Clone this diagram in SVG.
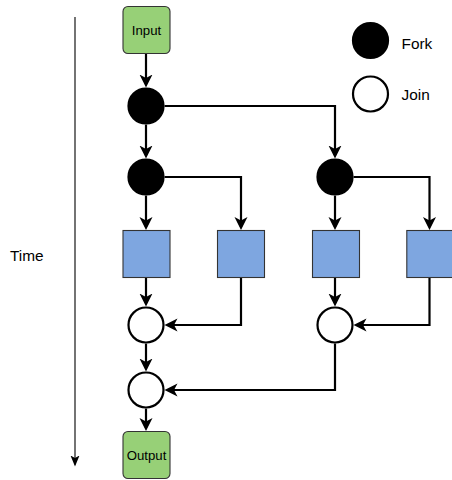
<svg xmlns="http://www.w3.org/2000/svg" width="452" height="480" viewBox="0 0 452 480">
<style>
.box{stroke:#333;stroke-width:1.1}
.io{fill:#97D077}
.task{fill:#7EA6E0}
.fork{fill:#000;stroke:#000;stroke-width:2.2}
.join{fill:#fff;stroke:#000;stroke-width:2.2}
.edge{fill:none;stroke:#000;stroke-width:2.2;marker-end:url(#arr)}
.axis{fill:none;stroke:#000;stroke-width:1.1;marker-end:url(#arrs)}
.lbl{font-family:"Liberation Sans",Arial,sans-serif;font-size:15.4px;fill:#000}
.nlbl{font-family:"Liberation Sans",Arial,sans-serif;font-size:13.2px;fill:#000;text-anchor:middle}
</style>
<defs>
<marker id="arr" markerUnits="userSpaceOnUse" viewBox="0 0 14 14" refX="10" refY="7" markerWidth="14" markerHeight="14" orient="auto">
<path d="M0,0.5 L13,7 L0,13.5 L3.5,7 Z" fill="#000"/>
</marker>
<marker id="arrs" markerUnits="userSpaceOnUse" viewBox="0 0 12 10" refX="9" refY="5" markerWidth="12" markerHeight="10" orient="auto">
<path d="M0,0.5 L11,5 L0,9.5 L2.5,5 Z" fill="#000"/>
</marker>
</defs>
<g id="connectors">
<path class="axis" d="M75,17 V464.5"/>
<path class="edge" d="M146,53.5 V84.5"/>
<path class="edge" d="M146,124.6 V155.5"/>
<path class="edge" d="M164.6,106 H335 V155.5"/>
<path class="edge" d="M146,195.6 V227"/>
<path class="edge" d="M164.6,177 H241 V227"/>
<path class="edge" d="M335,195.6 V227"/>
<path class="edge" d="M353.6,177 H429.5 V227"/>
<path class="edge" d="M146,278 V303.5"/>
<path class="edge" d="M241,278 V325 H167.5"/>
<path class="edge" d="M335,278 V303.5"/>
<path class="edge" d="M429.5,278 V325 H356.5"/>
<path class="edge" d="M146,343.6 V368.5"/>
<path class="edge" d="M335,343.6 V390 H167.5"/>
<path class="edge" d="M146,408.6 V428"/>
</g>
<g id="time"><text class="lbl" x="10" y="261">Time</text></g>
<g id="input"><rect class="box io" x="123" y="6.5" width="47" height="47" rx="5"/><text class="nlbl" x="146.5" y="34.5">Input</text></g>
<g id="fork1"><circle class="fork" cx="146" cy="106" r="17.5"/></g>
<g id="fork2"><circle class="fork" cx="146" cy="177" r="17.5"/></g>
<g id="fork3"><circle class="fork" cx="335" cy="177" r="17.5"/></g>
<g id="task1"><rect class="box task" x="123" y="230.5" width="47" height="47"/></g>
<g id="task2"><rect class="box task" x="217.5" y="230.5" width="47" height="47"/></g>
<g id="task3"><rect class="box task" x="312.5" y="230.5" width="47" height="47"/></g>
<g id="task4"><rect class="box task" x="406.8" y="230.5" width="47" height="47"/></g>
<g id="join1"><circle class="join" cx="146" cy="325" r="17.5"/></g>
<g id="join2"><circle class="join" cx="146" cy="390" r="17.5"/></g>
<g id="join3"><circle class="join" cx="335" cy="325" r="17.5"/></g>
<g id="output"><rect class="box io" x="123" y="431.5" width="47" height="47" rx="5"/><text class="nlbl" x="146.5" y="459.5">Output</text></g>
<g id="legend-fork"><circle class="fork" cx="370.5" cy="40.5" r="17.5"/><text class="lbl" x="401.5" y="49">Fork</text></g>
<g id="legend-join"><circle class="join" cx="370.5" cy="94" r="17.5"/><text class="lbl" x="401.5" y="100">Join</text></g>
</svg>
